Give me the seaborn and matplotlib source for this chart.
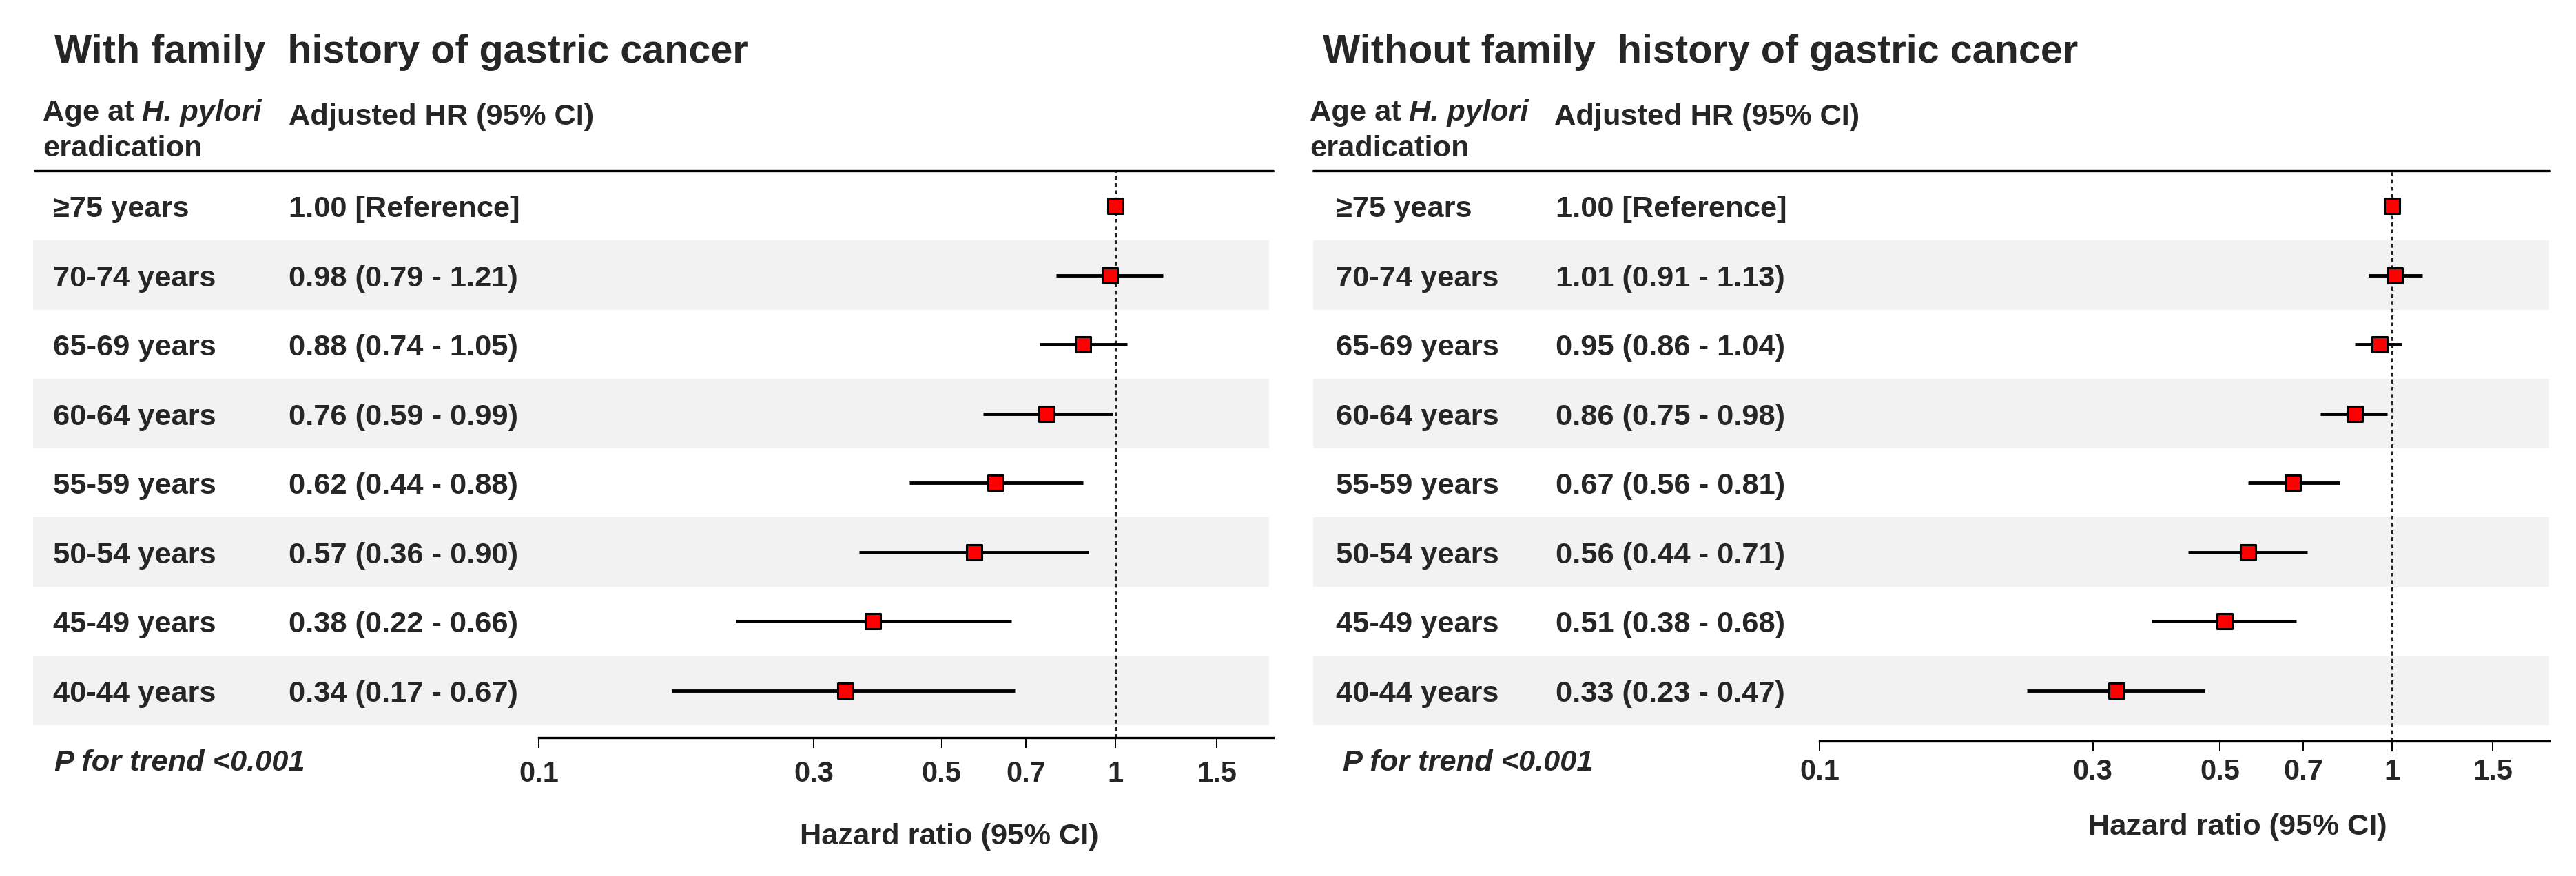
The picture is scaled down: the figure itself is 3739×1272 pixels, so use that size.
import numpy as np
import pandas as pd
import matplotlib
matplotlib.use('Agg')
import matplotlib.pyplot as plt
import seaborn as sns
from matplotlib.patches import Rectangle
from matplotlib.lines import Line2D
from matplotlib.ticker import NullLocator
from matplotlib.transforms import blended_transform_factory

# data
age_groups = ['≥75 years', '70-74 years', '65-69 years', '60-64 years',
              '55-59 years', '50-54 years', '45-49 years', '40-44 years']

hr_with = [1.00, 0.98, 0.88, 0.76, 0.62, 0.57, 0.38, 0.34]
lo_with = [1.00, 0.79, 0.74, 0.59, 0.44, 0.36, 0.22, 0.17]
hi_with = [1.00, 1.21, 1.05, 0.99, 0.88, 0.90, 0.66, 0.67]

hr_without = [1.00, 1.01, 0.95, 0.86, 0.67, 0.56, 0.51, 0.33]
lo_without = [1.00, 0.91, 0.86, 0.75, 0.56, 0.44, 0.38, 0.23]
hi_without = [1.00, 1.13, 1.04, 0.98, 0.81, 0.71, 0.68, 0.47]

titles = ['With family  history of gastric cancer',
          'Without family  history of gastric cancer']
tick_values = [0.1, 0.3, 0.5, 0.7, 1, 1.5]
tick_labels = ['0.1', '0.3', '0.5', '0.7', '1', '1.5']
p_trend = 'P for trend <0.001'
x_label = 'Hazard ratio (95% CI)'

sns.set_theme(style='white')
plt.rcParams['font.family'] = ['Liberation Sans', 'DejaVu Sans']
plt.rcParams['font.weight'] = 'bold'

W, H = 3739, 1272
def fx(x):
    return x / W
def fy(y):
    return 1 - y / H

fig = plt.figure(figsize=(W / 200, H / 200), dpi=200)

FS = 15.6
ROW0, ROWH, TOP = 299, 100.5, 248

# layout of each panel in pixels
panels = [
    dict(data=(hr_with, lo_with, hi_with), axx=(782, 1848), axy=1071,
         band=(48, 1842), line=(50, 1848), title_x=79, head_x=62,
         hr_head_x=419, label_x=77, value_x=419, p_x=79,
         xlab=(1378, 1226), pad=6.5),
    dict(data=(hr_without, lo_without, hi_without), axx=(2641, 3700), axy=1076,
         band=(1906, 3700), line=(1906, 3700), title_x=1920, head_x=1901,
         hr_head_x=2256, label_x=1939, value_x=2258, p_x=1949,
         xlab=(3248, 1212), pad=3.5),
]

for k, p in enumerate(panels):
    hr, lo, hi = p['data']
    x0, x1 = p['axx']
    ybot = p['axy']
    ax = fig.add_axes([fx(x0), fy(ybot), fx(x1) - fx(x0), (ybot - TOP) / H])
    ax.set_facecolor('none')
    ax.set_xscale('log')

    df = pd.DataFrame({'row': np.arange(len(age_groups)), 'hr': hr, 'lo': lo, 'hi': hi})
    trans = blended_transform_factory(fig.transFigure, ax.transData)

    # shaded bands on every other row
    b0, b1 = p['band']
    for i in df['row']:
        if i % 2 == 1:
            ax.add_patch(Rectangle((fx(b0), i - 0.5), fx(b1) - fx(b0), 1,
                                   transform=trans, facecolor='#f2f2f2',
                                   edgecolor='none', zorder=0, clip_on=False))

    ax.axvline(1, color='#222222', lw=1.1, ls=(0, (1.8, 1.6)), zorder=1)
    ax.hlines(df['row'], df['lo'], df['hi'], color='black', lw=1.75, zorder=2)
    sns.scatterplot(data=df, x='hr', y='row', marker='s', s=64, color='red',
                    edgecolor='black', linewidth=1.1, zorder=3, ax=ax, legend=False)

    ax.set_xlim(0.1, 1.88)
    ax.set_ylim((ybot - ROW0) / ROWH, (TOP - ROW0) / ROWH)
    ax.set_xlabel('')
    ax.set_ylabel('')
    ax.set_yticks([])
    ax.set_xticks(tick_values)
    ax.set_xticklabels(tick_labels)
    ax.xaxis.set_minor_locator(NullLocator())
    ax.tick_params(axis='x', bottom=True, length=5.4, width=0.7, color='black',
                   pad=p['pad'], labelsize=15, direction='out')
    for s in ['top', 'left', 'right']:
        ax.spines[s].set_visible(False)
    ax.spines['bottom'].set_linewidth(1.2)
    ax.spines['bottom'].set_color('black')

    # header line
    fig.add_artist(Line2D([fx(p['line'][0]), fx(p['line'][1])], [fy(TOP), fy(TOP)],
                          color='black', lw=1.2))

    # titles and headers
    fig.text(fx(p['title_x']), fy(91), titles[k], fontsize=20.7, va='baseline')
    t1 = fig.text(fx(p['head_x']), fy(175), 'Age at', fontsize=FS, va='baseline')
    ax.annotate('H. pylori', xy=(1, 0), xycoords=t1, xytext=(11, 0),
                textcoords='offset pixels', fontsize=FS, fontstyle='italic',
                va='bottom', ha='left', annotation_clip=False)
    fig.text(fx(p['head_x']), fy(227), 'eradication', fontsize=FS, va='baseline')
    fig.text(fx(p['hr_head_x']), fy(181), 'Adjusted HR (95% CI)', fontsize=FS, va='baseline')

    # table rows
    for i, row in df.iterrows():
        if i == 0:
            txt = f"{row['hr']:.2f} [Reference]"
        else:
            txt = f"{row['hr']:.2f} ({row['lo']:.2f} - {row['hi']:.2f})"
        ax.text(fx(p['label_x']), i + 0.16, age_groups[i], transform=trans,
                fontsize=FS, va='baseline', clip_on=False)
        ax.text(fx(p['value_x']), i + 0.16, txt, transform=trans,
                fontsize=FS, va='baseline', clip_on=False)

    fig.text(fx(p['p_x']), fy(1119), p_trend, fontsize=FS, fontstyle='italic', va='baseline')
    fig.text(fx(p['xlab'][0]), fy(p['xlab'][1]), x_label, fontsize=FS,
             ha='center', va='baseline')

fig.savefig('out.png', dpi=200)
